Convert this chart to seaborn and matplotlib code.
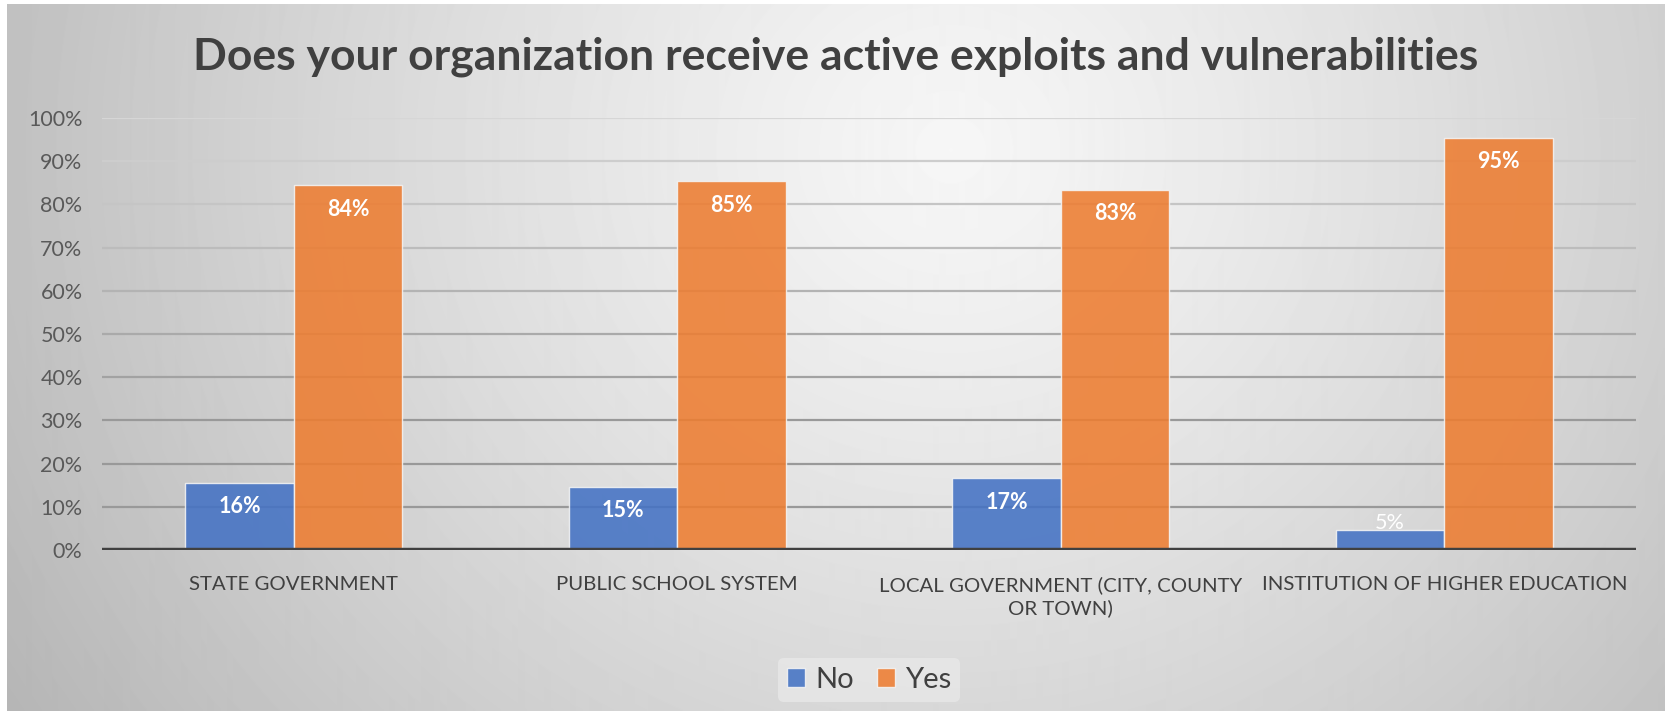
import numpy as np
import pandas as pd
import matplotlib
matplotlib.use("Agg")
import matplotlib.pyplot as plt
import seaborn as sns

# Survey results (percent of respondents)
categories = [
    "STATE GOVERNMENT",
    "PUBLIC SCHOOL SYSTEM",
    "LOCAL GOVERNMENT (CITY, COUNTY\nOR TOWN)",
    "INSTITUTION OF HIGHER EDUCATION",
]
no_values = [15.6, 14.6, 16.6, 4.6]
yes_values = [84.4, 85.4, 83.4, 95.4]
series = ["No", "Yes"]
y_ticks = [0, 10, 20, 30, 40, 50, 60, 70, 80, 90, 100]
title = "Does your organization receive active exploits and vulnerabilities"

df = pd.DataFrame({
    "category": categories * 2,
    "response": ["No"] * len(categories) + ["Yes"] * len(categories),
    "value": no_values + yes_values,
})

sns.set_theme(style="white")
plt.rcParams["font.family"] = ["Lato", "DejaVu Sans"]

W, H = 1667, 711
fig = plt.figure(figsize=(W / 100, H / 100), dpi=100)
fig.patch.set_facecolor("white")

# Soft radial grey background panel
bx0, bx1, by0, by1 = 7, 1664, 4, 711
bg = fig.add_axes([bx0 / W, 1 - by1 / H, (bx1 - bx0) / W, (by1 - by0) / H])
yy, xx = np.mgrid[by0:by1, bx0:bx1].astype(float)
d = np.sqrt(((xx - 950) / 950) ** 2 + ((yy - 150) / 900) ** 2)
shade = 0.965 - 0.21 * np.clip(d, 0, 1.2) ** 1.2
bg.imshow(shade, cmap="gray", vmin=0, vmax=1, aspect="auto", interpolation="bilinear")
bg.set_axis_off()

# Plot area
px0, px1, py0, py1 = 102, 1636, 118, 550
ax = fig.add_axes([px0 / W, 1 - py1 / H, (px1 - px0) / W, (py1 - py0) / H])
ax.set_facecolor("none")

palette = {"No": "#4472C4", "Yes": "#ED7D31"}
sns.barplot(
    data=df, x="category", y="value", hue="response", hue_order=series,
    palette=palette, width=0.566, alpha=0.88, edgecolor="#f4f4f4",
    linewidth=1.0, saturation=1, ax=ax, legend=True, zorder=3,
)

ax.set_ylim(0, 100)
ax.set_xlim(-0.5, len(categories) - 0.5)
ax.set_yticks(y_ticks)
ax.set_yticklabels([f"{t}%" for t in y_ticks])

# Horizontal gridlines, lighter toward the top
for t in y_ticks[1:]:
    lvl = 0.60 + 0.24 * np.clip((t - 30) / 70, 0, 1)
    ax.axhline(t, color=(lvl, lvl, lvl), lw=1.6, zorder=1)
ax.axhline(0, color="#404040", lw=3.2, zorder=4)

for s in ax.spines.values():
    s.set_visible(False)
ax.tick_params(axis="both", length=0)
ax.tick_params(axis="y", labelsize=15.5, labelcolor="#595959", pad=14)
ax.tick_params(axis="x", labelsize=14.7, labelcolor="#404040", pad=19)
for lab in ax.get_xticklabels():
    lab.set_linespacing(1.35)
ax.set_xlabel("")
ax.set_ylabel("")

# Value labels inside the top of each bar
for container in ax.containers:
    for bar in container:
        h = bar.get_height()
        xc = bar.get_x() + bar.get_width() / 2
        if h > 10:
            off, weight = -24, "bold"
        else:
            off, weight = 7, "normal"
        ax.annotate(f"{h:.0f}%", (xc, h), xytext=(0, off), textcoords="offset pixels",
                    ha="center", va="center", color="white", fontsize=15.5,
                    fontweight=weight, zorder=5)

leg = ax.legend(loc="center", bbox_to_anchor=(0.5, (py1 - 680) / (py1 - py0)),
                ncol=2, frameon=True, fontsize=21, handlelength=0.62, handleheight=0.62,
                columnspacing=0.8, handletextpad=0.35, borderpad=0.3, borderaxespad=0)
leg.get_frame().set_facecolor("#e8e8e8")
leg.get_frame().set_edgecolor("none")
leg.get_frame().set_alpha(0.8)
for txt in leg.get_texts():
    txt.set_color("#404040")

fig.text(836 / W, 1 - 57 / H, title, ha="center", va="center", fontsize=32,
         fontweight="bold", color="#404040")

fig.savefig("out.png", dpi=100)
